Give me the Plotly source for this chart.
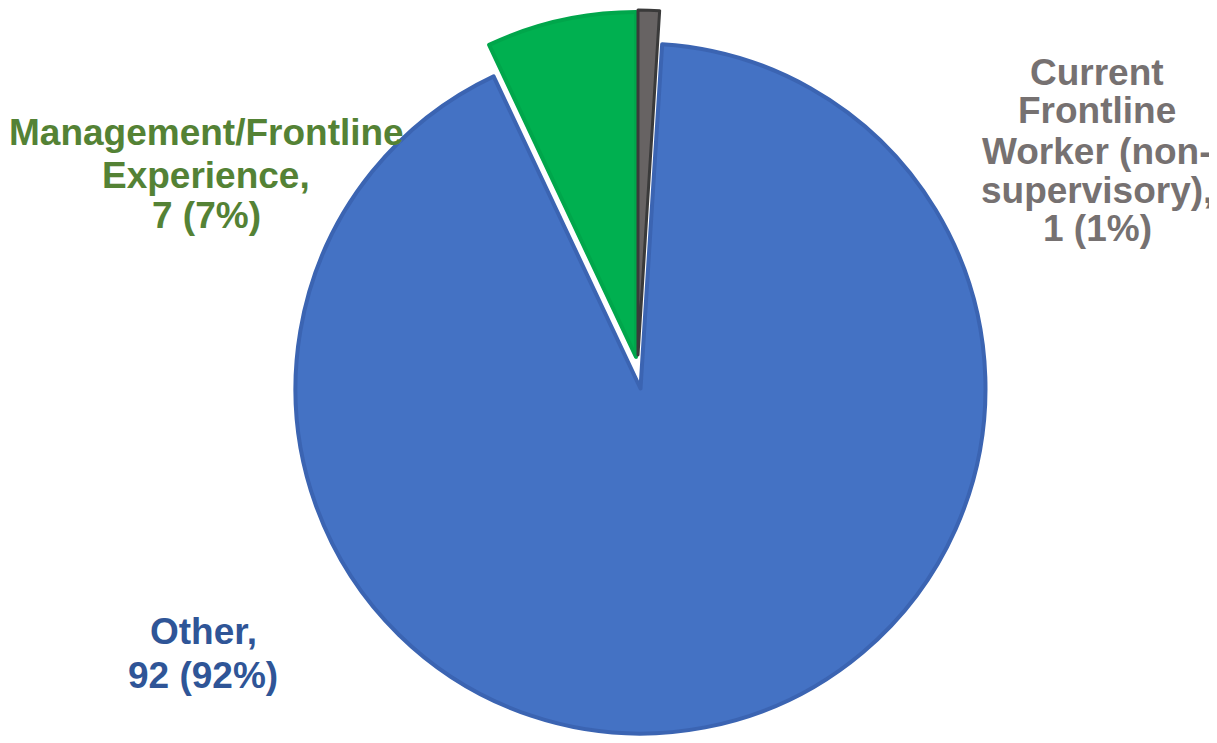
import plotly.graph_objects as go

# ---- data ----
categories = ["Current Frontline Worker (non-supervisory)", "Other", "Management/Frontline Experience"]
values = [1, 92, 7]

label_lines = {
    "Current Frontline Worker (non-supervisory)": ["Current", "Frontline", "Worker (non-", "supervisory),", "1 (1%)"],
    "Other": ["Other,", "92 (92%)"],
    "Management/Frontline Experience": ["Management/Frontline", "Experience,", "7 (7%)"],
}

# ---- style / layout ----
OFF = 8                      # page body margin of the browser
W, H = 1217 - OFF, 743 - OFF  # figure size so it fits the window exactly
R = 345  # pie radius in px
fills = {"Current Frontline Worker (non-supervisory)": "#676363",
         "Other": "#4472C4",
         "Management/Frontline Experience": "#00B050"}
borders = {"Current Frontline Worker (non-supervisory)": "#3A3A3A",
           "Other": "#3B64B2",
           "Management/Frontline Experience": "#00A64B"}
border_w = {"Current Frontline Worker (non-supervisory)": 3,
            "Other": 4,
            "Management/Frontline Experience": 4}
# pixel centres in window coordinates (exploded slices drawn as separate pies)
centres = {"Other": (640.5, 388.5),
           "Management/Frontline Experience": (636, 357),
           "Current Frontline Worker (non-supervisory)": (638, 355)}
text_colors = {"Current Frontline Worker (non-supervisory)": "#767171",
               "Other": "#2F5597",
               "Management/Frontline Experience": "#548235"}
label_pos = {  # x centre, line centres (window px from top)
    "Current Frontline Worker (non-supervisory)": (1097, [72, 111, 151, 190, 229]),
    "Other": (203, [631, 675]),
    "Management/Frontline Experience": (206, [133, 176, 215]),
}
FONT = "Liberation Sans, Arial, sans-serif"
FS = 37


def px_x(x):
    return (x - OFF) / W


def px_y(y):
    return 1 - (y - OFF) / H


fig = go.Figure()
draw_order = ["Other", "Management/Frontline Experience", "Current Frontline Worker (non-supervisory)"]
for shown in draw_order:
    cx, cy = centres[shown]
    half_w = 450
    xd = [px_x(cx - half_w), px_x(cx + half_w)]
    yd = [px_y(cy + R), px_y(cy - R)]
    colors = [fills[c] if c == shown else "rgba(0,0,0,0)" for c in categories]
    lcolors = [borders[c] if c == shown else "rgba(0,0,0,0)" for c in categories]
    lwidths = [border_w[c] if c == shown else 0 for c in categories]
    fig.add_trace(go.Pie(
        labels=categories, values=values, sort=False, direction="clockwise",
        rotation=0, textinfo="none", hoverinfo="label+value+percent",
        marker=dict(colors=colors, line=dict(color=lcolors, width=lwidths)),
        domain=dict(x=xd, y=yd), showlegend=False,
    ))

for cat in categories:
    x, ys = label_pos[cat]
    for line, y in zip(label_lines[cat], ys):
        fig.add_annotation(
            x=px_x(x), y=px_y(y), xref="paper", yref="paper",
            text="<b>" + line + "</b>", showarrow=False,
            xanchor="center", yanchor="middle",
            font=dict(family=FONT, size=FS, color=text_colors[cat]),
        )

fig.update_layout(
    width=W, height=H,
    margin=dict(l=0, r=0, t=0, b=0),
    paper_bgcolor="white", plot_bgcolor="white",
)

fig.write_html("out.html")
